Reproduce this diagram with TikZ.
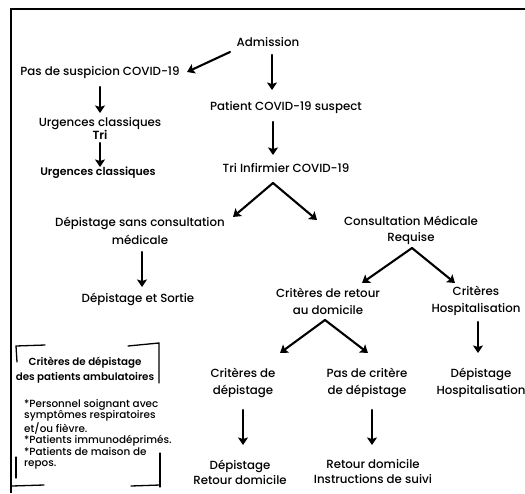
\documentclass[tikz,border=0pt]{standalone}
\usepackage{fontspec}
\setmainfont{Poppins}[UprightFont={* Medium}, BoldFont={* SemiBold}]
\usetikzlibrary{arrows.meta}

\tikzset{
  lbl/.style={font=\fontsize{11.8}{16}\selectfont, align=center, inner sep=0pt},
  flow/.style={line width=2.1pt, line cap=round, line join=round,
    -{Stealth[length=7.5pt,width=10pt,inset=1.5pt]}},
  bracket/.style={line width=1.3pt, line cap=round},
  frame/.style={line width=2pt},
}

\begin{document}
\begin{tikzpicture}[x=1pt,y=-1pt]
\useasboundingbox (0,0) rectangle (525,493);

% outer frame (top and left edges)
\draw[frame] (11,493) -- (11,9) -- (525,9);

% main path
\node[lbl] (adm) at (268,42) {Admission};
\node[lbl] (pas) at (100,72) {Pas de suspicion COVID-19};
\node[lbl] (pat) at (286,107) {Patient COVID-19 suspect};
\node[lbl] (tri) at (286,168) {Tri Infirmier COVID-19};

% non-suspect branch
\node[lbl, font=\fontsize{11.8}{13}\selectfont] (urg1) at (100,128) {Urgences classiques\\\textbf{Tri}};
\node[lbl, font=\fontsize{11}{12}\selectfont\bfseries] (urg2) at (98,173) {Urgences classiques};

% triage outcomes
\node[lbl, font=\fontsize{11.8}{18}\selectfont] (dep) at (140,231) {Dépistage sans consultation\\médicale};
\node[lbl] (sortie) at (138,299) {Dépistage et Sortie};
\node[lbl] (cons) at (411,230) {Consultation Médicale\\Requise};

\node[lbl, font=\fontsize{11.8}{17}\selectfont] (retour) at (328,301) {Critères de retour\\au domicile};
\node[lbl, font=\fontsize{11.8}{17}\selectfont] (hosp) at (476,301) {Critères\\Hospitalisation};

\node[lbl, font=\fontsize{11.8}{17}\selectfont] (cdep) at (243,383) {Critères de\\dépistage};
\node[lbl, font=\fontsize{11.8}{17}\selectfont] (pdep) at (367,383) {Pas de critère\\de dépistage};
\node[lbl, font=\fontsize{11.8}{17}\selectfont] (dhosp) at (481,383) {Dépistage\\Hospitalisation};

\node[lbl, font=\fontsize{11.8}{15}\selectfont] (drd) at (240,472) {Dépistage\\Retour domicile};
\node[lbl, font=\fontsize{11.8}{15}\selectfont] (rdi) at (373,472) {Retour domicile\\Instructions de suivi};

% connectors
\draw[flow] ([shift={(-38,10)}]adm.center) -- ([shift={(87,0)}]pas.center);
\draw[flow] ([shift={(4,13)}]adm.center) -- ([shift={(-14,-17)}]pat.center);
\draw[flow] ([shift={(-13,15)}]pat.center) -- ([shift={(-13,-13)}]tri.center);
\draw[flow] ([shift={(0,15)}]pas.center) -- ([shift={(0,-15)}]urg1.center);
\draw[flow] ([shift={(0,15)}]urg1.center) -- ([shift={(2,-6)}]urg2.center);
\draw[flow] ([shift={(-13,15)}]tri.center) -- ([shift={(93,-14)}]dep.center);
\draw[flow] ([shift={(-13,15)}]tri.center) -- ([shift={(-94,-10)}]cons.center);
\draw[flow] ([shift={(2,21)}]dep.center) -- ([shift={(4,-12)}]sortie.center);
\draw[flow] ([shift={(1,18)}]cons.center) -- ([shift={(34,-18)}]retour.center);
\draw[flow] ([shift={(1,18)}]cons.center) -- ([shift={(-21,-18)}]hosp.center);
\draw[flow] ([shift={(2,21)}]hosp.center) -- ([shift={(-3,-30)}]dhosp.center);
\draw[flow] ([shift={(-3,19)}]retour.center) -- ([shift={(37,-30)}]cdep.center);
\draw[flow] ([shift={(-3,19)}]retour.center) -- ([shift={(1,-30)}]pdep.center);
\draw[flow] ([shift={(0,27)}]cdep.center) -- ([shift={(3,-27)}]drd.center);
\draw[flow] ([shift={(5,27)}]pdep.center) -- ([shift={(-1,-27)}]rdi.center);

% screening criteria box
\node[lbl, font=\fontsize{10.3}{15}\selectfont\bfseries] (crit) at (85,370)
  {Critères de dépistage\\des patients ambulatoires};
\node[inner sep=0pt, anchor=west, align=left, font=\fontsize{10.4}{11.4}\selectfont] (critlist) at (24,434.5)
  {*Personnel soignant avec\\symptômes respiratoires\\et/ou fièvre.\\*Patients immunodéprimés.\\*Patients de maison de\\repos.};

% hand-drawn corner brackets
\draw[bracket] (17,362) -- (16,346) -- (45,345);
\draw[bracket] (128,346) -- (159,343) -- (159,383);
\draw[bracket] (16,457) -- (16,478);
\draw[bracket] (12,486) -- (44,485);
\draw[bracket] (160,453) -- (160,487);
\draw[bracket] (131,486) -- (160,485);
\end{tikzpicture}
\end{document}
